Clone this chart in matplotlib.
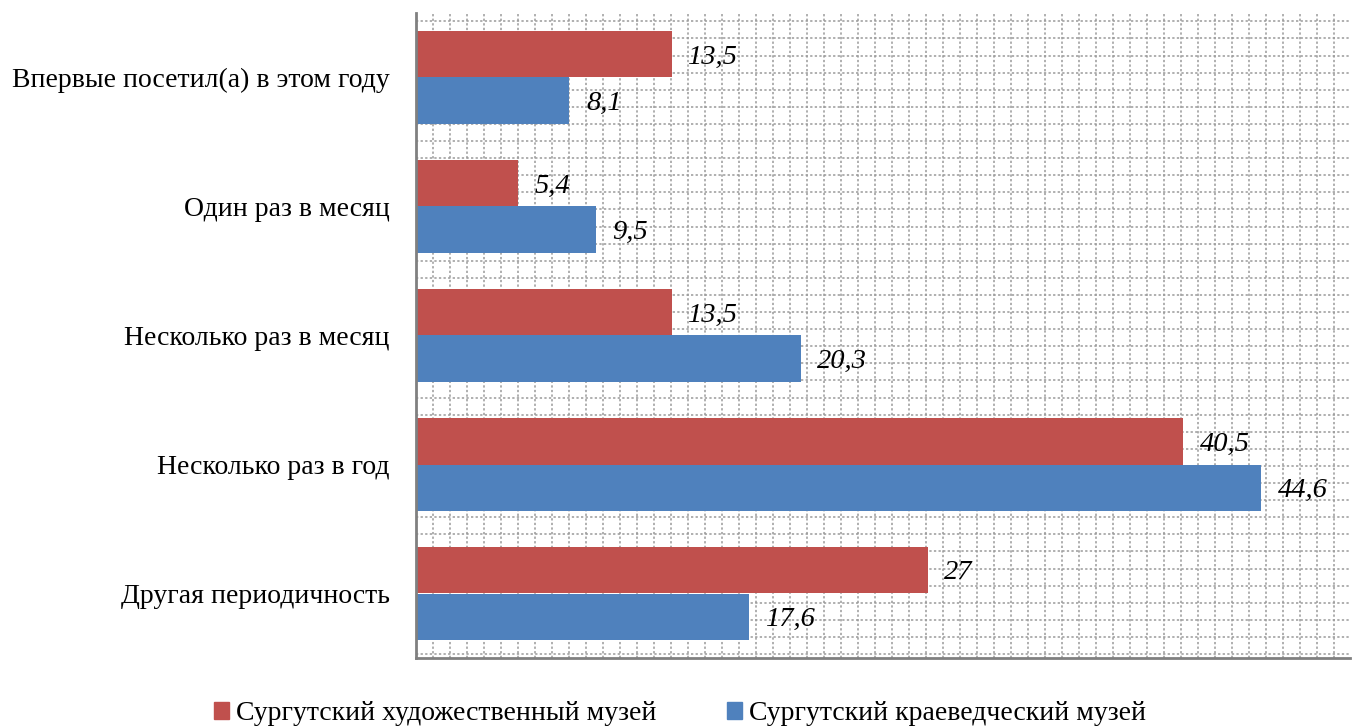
import numpy as np
import matplotlib
matplotlib.use('Agg')
import matplotlib.pyplot as plt
from matplotlib.patches import Patch

# категории (сверху вниз)
categories = ['Впервые посетил(а) в этом году', 'Один раз в месяц',
              'Несколько раз в месяц', 'Несколько раз в год', 'Другая периодичность']
art_museum = [13.5, 5.4, 13.5, 40.5, 27]
local_museum = [8.1, 9.5, 20.3, 44.6, 17.6]
series_names = ['Сургутский художественный музей', 'Сургутский краеведческий музей']

red = '#C0504D'
blue = '#4F81BD'


def fmt(v):
    s = ('%g' % v).replace('.', ',')
    return s


def main():
    plt.rcParams['font.family'] = ['Liberation Serif', 'DejaVu Serif']

    fig = plt.figure(figsize=(13.52, 7.26), dpi=100)
    ax = fig.add_axes([416 / 1352, (726 - 658) / 726, (1350 - 416) / 1352, (658 - 13) / 726])

    xmax = 49.3
    ax.set_xlim(0, xmax)
    ax.set_ylim(4.5, -0.5)

    # фоновая сетка (узор «мелкая сетка»)
    px = xmax / (1350 - 416)          # единиц данных на пиксель по x
    py = 5.0 / (658 - 13)             # единиц на пиксель по y
    gx = np.arange(17 * px, xmax, 17.0 * px)
    gy = np.arange(4.5 - 4 * py, -0.5, -17.1 * py)
    grid_kw = dict(color='#9a9a9a', lw=1.1, ls=(0, (1.5, 1.5)), zorder=0)
    for x in gx:
        ax.axvline(x, **grid_kw)
    for y in gy:
        ax.axhline(y, **grid_kw)

    y = np.arange(len(categories))
    h = 0.362
    ax.barh(y - h / 2, art_museum, height=h, color=red, zorder=2)
    ax.barh(y + h / 2, local_museum, height=h, color=blue, zorder=2)

    for i in range(len(categories)):
        ax.annotate(fmt(art_museum[i]), (art_museum[i], y[i] - h / 2), xytext=(12, -2),
                    textcoords='offset points', va='center', ha='left',
                    fontsize=20.5, style='italic', zorder=3)
        ax.annotate(fmt(local_museum[i]), (local_museum[i], y[i] + h / 2), xytext=(12, -2),
                    textcoords='offset points', va='center', ha='left',
                    fontsize=20.5, style='italic', zorder=3)

    ax.set_yticks(y)
    ax.set_yticklabels(categories, fontsize=20)
    ax.tick_params(axis='y', length=0, pad=19)
    ax.set_xticks([])

    for s in ['top', 'right']:
        ax.spines[s].set_visible(False)
    ax.spines['left'].set_color('#808080')
    ax.spines['left'].set_linewidth(2)
    ax.spines['bottom'].set_color('#808080')
    ax.spines['bottom'].set_linewidth(2)

    handles = [Patch(color=red), Patch(color=blue)]
    fig.legend(handles, series_names, loc='center', bbox_to_anchor=(0.503, 0.017),
               ncol=2, frameon=False, fontsize=20, handlelength=0.55, handleheight=0.55,
               handletextpad=0.25, columnspacing=2.55)

    fig.savefig('out.png', dpi=100)


if __name__ == '__main__':
    main()
